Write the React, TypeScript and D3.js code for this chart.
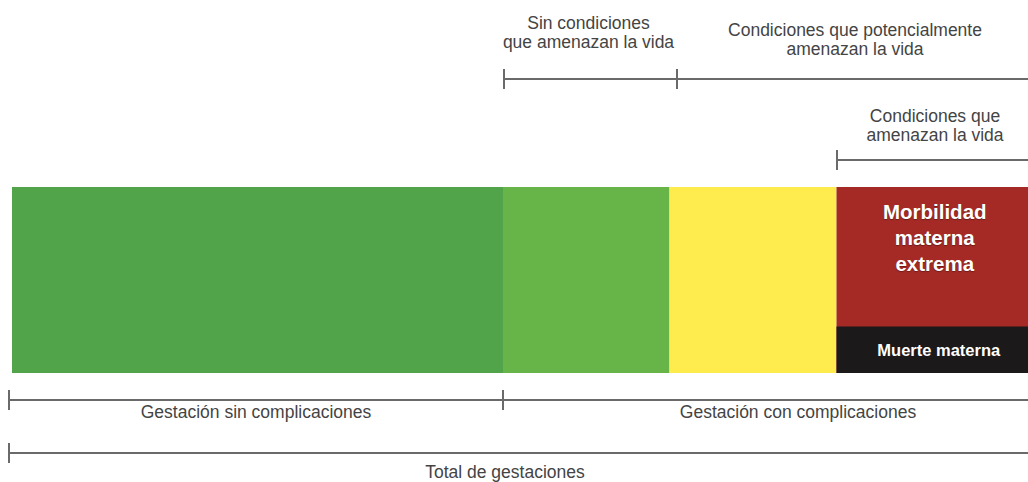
import React from "react";
import * as d3 from "d3";

// Bar segments (domain units, share of total gestations)
const segNames = ["Sin complicaciones", "Sin condiciones que amenazan la vida", "Condiciones que potencialmente amenazan la vida", "Morbilidad materna extrema"];
const segStart = [0, 49.1, 65.75, 82.45];
const segEnd = [49.1, 65.75, 82.45, 102.1];
const segColors = ["#51a449", "#67b548", "#feeb4e", "#a52a26"];

// Inner bar: maternal death share of the red segment height (percent)
const deathShare = 25;
const deathLabel = "Muerte materna";
const morbLabel = ["Morbilidad", "materna", "extrema"];

// Brackets above the bar
const topLabels = [
  ["Sin condiciones", "que amenazan la vida"],
  ["Condiciones que potencialmente", "amenazan la vida"],
  ["Condiciones que", "amenazan la vida"],
];
const topFrom = [49.2, 66.5, 82.5];
const topTo = [66.5, 102.1, 102.1];
const topTicks = [[49.2, 66.5], [66.5], [82.5]];

// Brackets below the bar
const bottomLabels = ["Gestación sin complicaciones", "Gestación con complicaciones", "Total de gestaciones"];
const bottomFrom = [-0.3, 49.1, -0.3];
const bottomTo = [49.1, 110, 110];
const bottomLabelAt = [24.4, 78.6, 49.3];

export default function App() {
  const W = 1028, H = 482;
  const x = d3.scaleLinear().domain([0, 100]).range([12, 1012]);
  const y = d3.scaleLinear().domain([0, 100]).range([373, 187]);
  const lineColor = "#6a6a6a";
  const textColor = "#444";
  const font = "'Liberation Sans', Arial, Helvetica, sans-serif";

  const topLineY = [79, 79, 160];
  const topTextY = [[29, 48], [36, 55], [122, 141]];
  const bottomLineY = [400, 400, 453];
  const bottomTextY = [418, 418, 478];

  const redMid = (segStart[3] + segEnd[3]) / 2;

  return (
    <svg width={W} height={H} style={{ position: "absolute", left: 0, top: 0, background: "#fff" }} fontFamily={font}>
      {segNames.map((n, i) => (
        <rect key={n} x={x(segStart[i])} y={y(100)} width={x(segEnd[i]) - x(segStart[i])} height={y(0) - y(100)} fill={segColors[i]} />
      ))}
      <rect x={x(segStart[3])} y={y(deathShare)} width={x(segEnd[3]) - x(segStart[3])} height={y(0) - y(deathShare)} fill="#1b1919" />
      {morbLabel.map((t, i) => (
        <text key={t} x={x(redMid)} y={219 + i * 26} textAnchor="middle" fill="#fff" fontWeight="bold" fontSize={20.5}
          style={{ textShadow: "0px 1px 1px rgba(0,0,0,0.35)" }}>{t}</text>
      ))}
      <text x={x(redMid) + 4} y={356} textAnchor="middle" fill="#fff" fontWeight="bold" fontSize={16.5}>{deathLabel}</text>

      {topLabels.map((lines, i) => (
        <g key={"t" + i}>
          <line x1={x(topFrom[i])} x2={x(topTo[i])} y1={topLineY[i]} y2={topLineY[i]} stroke={lineColor} strokeWidth={2} />
          {topTicks[i].map((v) => (
            <line key={v} x1={x(v)} x2={x(v)} y1={topLineY[i] - 10} y2={topLineY[i] + 10} stroke={lineColor} strokeWidth={2} />
          ))}
          {lines.map((l, j) => (
            <text key={l} x={x((topFrom[i] + topTo[i]) / 2) - (i === 0 ? 2 : 0)} y={topTextY[i][j]} textAnchor="middle" fill={textColor} fontSize={17.5}>{l}</text>
          ))}
        </g>
      ))}

      {bottomLabels.map((l, i) => (
        <g key={"b" + i}>
          <line x1={x(bottomFrom[i])} x2={x(bottomTo[i])} y1={bottomLineY[i]} y2={bottomLineY[i]} stroke={lineColor} strokeWidth={2} />
          <line x1={x(bottomFrom[i])} x2={x(bottomFrom[i])} y1={bottomLineY[i] - 10} y2={bottomLineY[i] + 10} stroke={lineColor} strokeWidth={2} />
          <text x={x(bottomLabelAt[i])} y={bottomTextY[i]} textAnchor="middle" fill={textColor} fontSize={17.5}>{l}</text>
        </g>
      ))}
    </svg>
  );
}
